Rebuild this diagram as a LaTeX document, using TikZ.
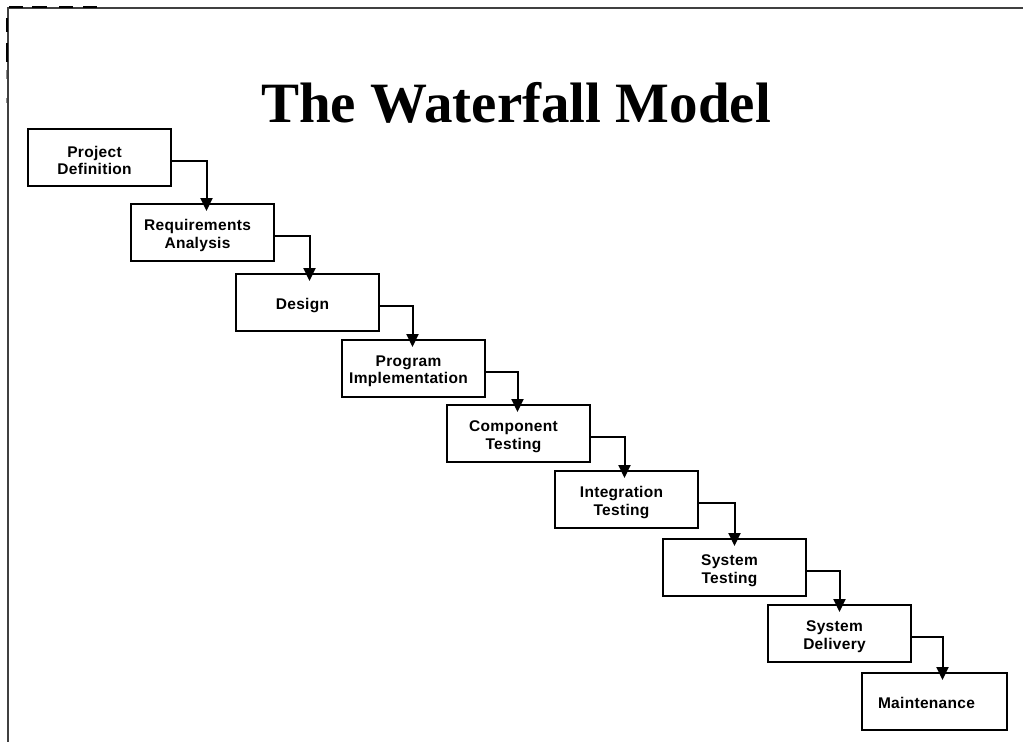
\documentclass[tikz,border=0pt]{standalone}
\usepackage{fontspec}
\usetikzlibrary{arrows.meta}
\newfontfamily\stagefont[LetterSpace=2]{Liberation Sans}
\newfontfamily\titlefont{Liberation Serif}
\begin{document}
\begin{tikzpicture}[x=1pt,y=-1pt,
  stage/.style={draw, line width=1.6pt, minimum width=143pt, minimum height=57pt,
    anchor=north west, inner sep=0pt, outer sep=0pt},
  stagetext/.style={font=\stagefont\bfseries\fontsize{15.5}{17.5}\selectfont, align=center},
  conn/.style={draw, line width=2pt, -{Triangle[width=12pt,length=13pt]}},
  frameline/.style={line width=1.5pt, black!75}]
\useasboundingbox (0,0) rectangle (1023,742);
% page frame
\draw[frameline] (1023,8) -- (8,8) -- (8,742);
\draw[line width=2pt] (9,6.5) -- (23,6.5) (32,6.5) -- (47,6.5) (59,6.5) -- (73,6.5) (83,6.5) -- (97,6.5);
\draw[line width=2pt] (6.5,18) -- (6.5,32) (6.5,43) -- (6.5,62);
\draw[line width=1.5pt, black!45] (6.5,70) -- (6.5,79) (6.5,98) -- (6.5,103);
% title
\node[font=\titlefont\bfseries\fontsize{57}{60}\selectfont, anchor=base] (title) at (516,122) {The Waterfall Model};
% stages
\node[stage] (s1) at (28,129) {};
\node[stage] (s2) at (131,204) {};
\node[stage] (s3) at (236,274) {};
\node[stage] (s4) at (342,340) {};
\node[stage] (s5) at (447,405) {};
\node[stage] (s6) at (555,471) {};
\node[stage] (s7) at (663,539) {};
\node[stage] (s8) at (768,605) {};
\node[stage, minimum width=145pt] (s9) at (862,673) {};
\node[stagetext] (t1) at ([xshift=-5pt,yshift=-3pt]s1.center) {Project\\Definition};
\node[stagetext] (t2) at ([xshift=-5pt,yshift=-3pt]s2.center) {Requirements\\Analysis};
\node[stagetext] (t3) at ([xshift=-5pt,yshift=-3pt]s3.center) {Design};
\node[stagetext] (t4) at ([xshift=-5pt,yshift=-3pt]s4.center) {Program\\Implementation};
\node[stagetext] (t5) at ([xshift=-5pt,yshift=-3pt]s5.center) {Component\\Testing};
\node[stagetext] (t6) at ([xshift=-5pt,yshift=-3pt]s6.center) {Integration\\Testing};
\node[stagetext] (t7) at ([xshift=-5pt,yshift=-3pt]s7.center) {System\\Testing};
\node[stagetext] (t8) at ([xshift=-5pt,yshift=-3pt]s8.center) {System\\Delivery};
\node[stagetext] (t9) at ([xshift=-8pt,yshift=-1pt]s9.center) {Maintenance};
% connectors
\path[conn] ([yshift=-3pt]s1.east) -| ([xshift=4pt,yshift=-7pt]s2.north);
\path[conn] ([yshift=-3pt]s2.east) -| ([xshift=2pt,yshift=-7pt]s3.north);
\path[conn] ([yshift=-3pt]s3.east) -| ([xshift=-1pt,yshift=-7pt]s4.north);
\path[conn] ([yshift=-3pt]s4.east) -| ([xshift=-1pt,yshift=-7pt]s5.north);
\path[conn] ([yshift=-3pt]s5.east) -| ([xshift=-2pt,yshift=-7pt]s6.north);
\path[conn] ([yshift=-3pt]s6.east) -| ([xshift=0pt,yshift=-7pt]s7.north);
\path[conn] ([yshift=-3pt]s7.east) -| ([xshift=0pt,yshift=-7pt]s8.north);
\path[conn] ([yshift=-3pt]s8.east) -| ([xshift=8pt,yshift=-7pt]s9.north);
\end{tikzpicture}
\end{document}
